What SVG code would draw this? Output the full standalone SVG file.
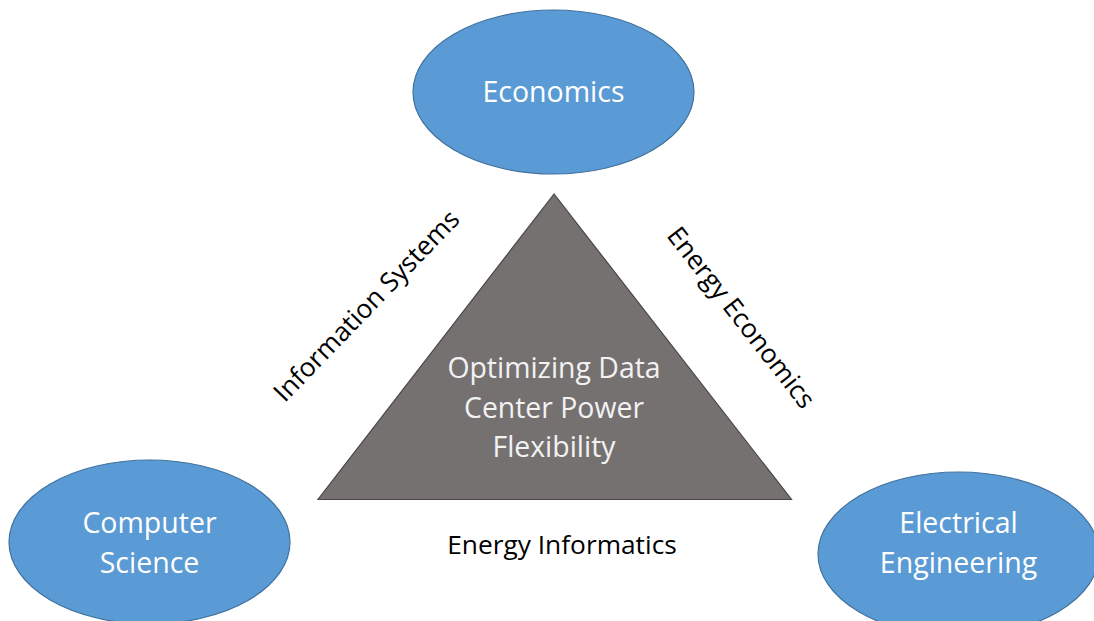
<svg xmlns="http://www.w3.org/2000/svg" width="1094" height="621" viewBox="0 0 1094 621">
  <style>
    .disc { fill: #5B9BD5; stroke: #41719C; stroke-width: 1.2; }
    .disc-text { font-family: "Open Sans", "Liberation Sans", sans-serif; font-size: 28.5px; fill: #FFFFFF; text-anchor: middle; }
    .core { fill: #767171; stroke: #4A4646; stroke-width: 1.2; }
    .core-text { font-family: "Open Sans", "Liberation Sans", sans-serif; font-size: 28.4px; fill: #F2F2F2; text-anchor: middle; }
    .edge-label { font-family: "Open Sans", "Liberation Sans", sans-serif; font-size: 26.3px; fill: #000000; text-anchor: middle; }
  </style>
  <rect width="1094" height="621" fill="#FFFFFF"/>

  <g id="economics">
    <ellipse class="disc" cx="553.5" cy="92" rx="140.5" ry="82"/>
    <text class="disc-text" x="553.5" y="102">Economics</text>
  </g>

  <g id="computer-science">
    <ellipse class="disc" cx="149.5" cy="542" rx="140.5" ry="82"/>
    <text class="disc-text" x="149.5" y="533">Computer</text>
    <text class="disc-text" x="149.5" y="573">Science</text>
  </g>

  <g id="electrical-engineering">
    <ellipse class="disc" cx="958.5" cy="554" rx="140.5" ry="82"/>
    <text class="disc-text" x="958.5" y="533">Electrical</text>
    <text class="disc-text" x="958.5" y="573">Engineering</text>
  </g>

  <g id="data-center-flexibility">
    <polygon class="core" points="554,194 318,499.5 791.5,499.5"/>
    <text class="core-text" x="554" y="378">Optimizing Data</text>
    <text class="core-text" x="554" y="418">Center Power</text>
    <text class="core-text" x="554" y="457">Flexibility</text>
  </g>

  <g id="connectors">
    <text class="edge-label" transform="translate(373,312) rotate(-46)">Information Systems</text>
    <text class="edge-label" transform="translate(734,323) rotate(52)">Energy Economics</text>
    <text class="edge-label" x="562" y="554">Energy Informatics</text>
  </g>
</svg>
